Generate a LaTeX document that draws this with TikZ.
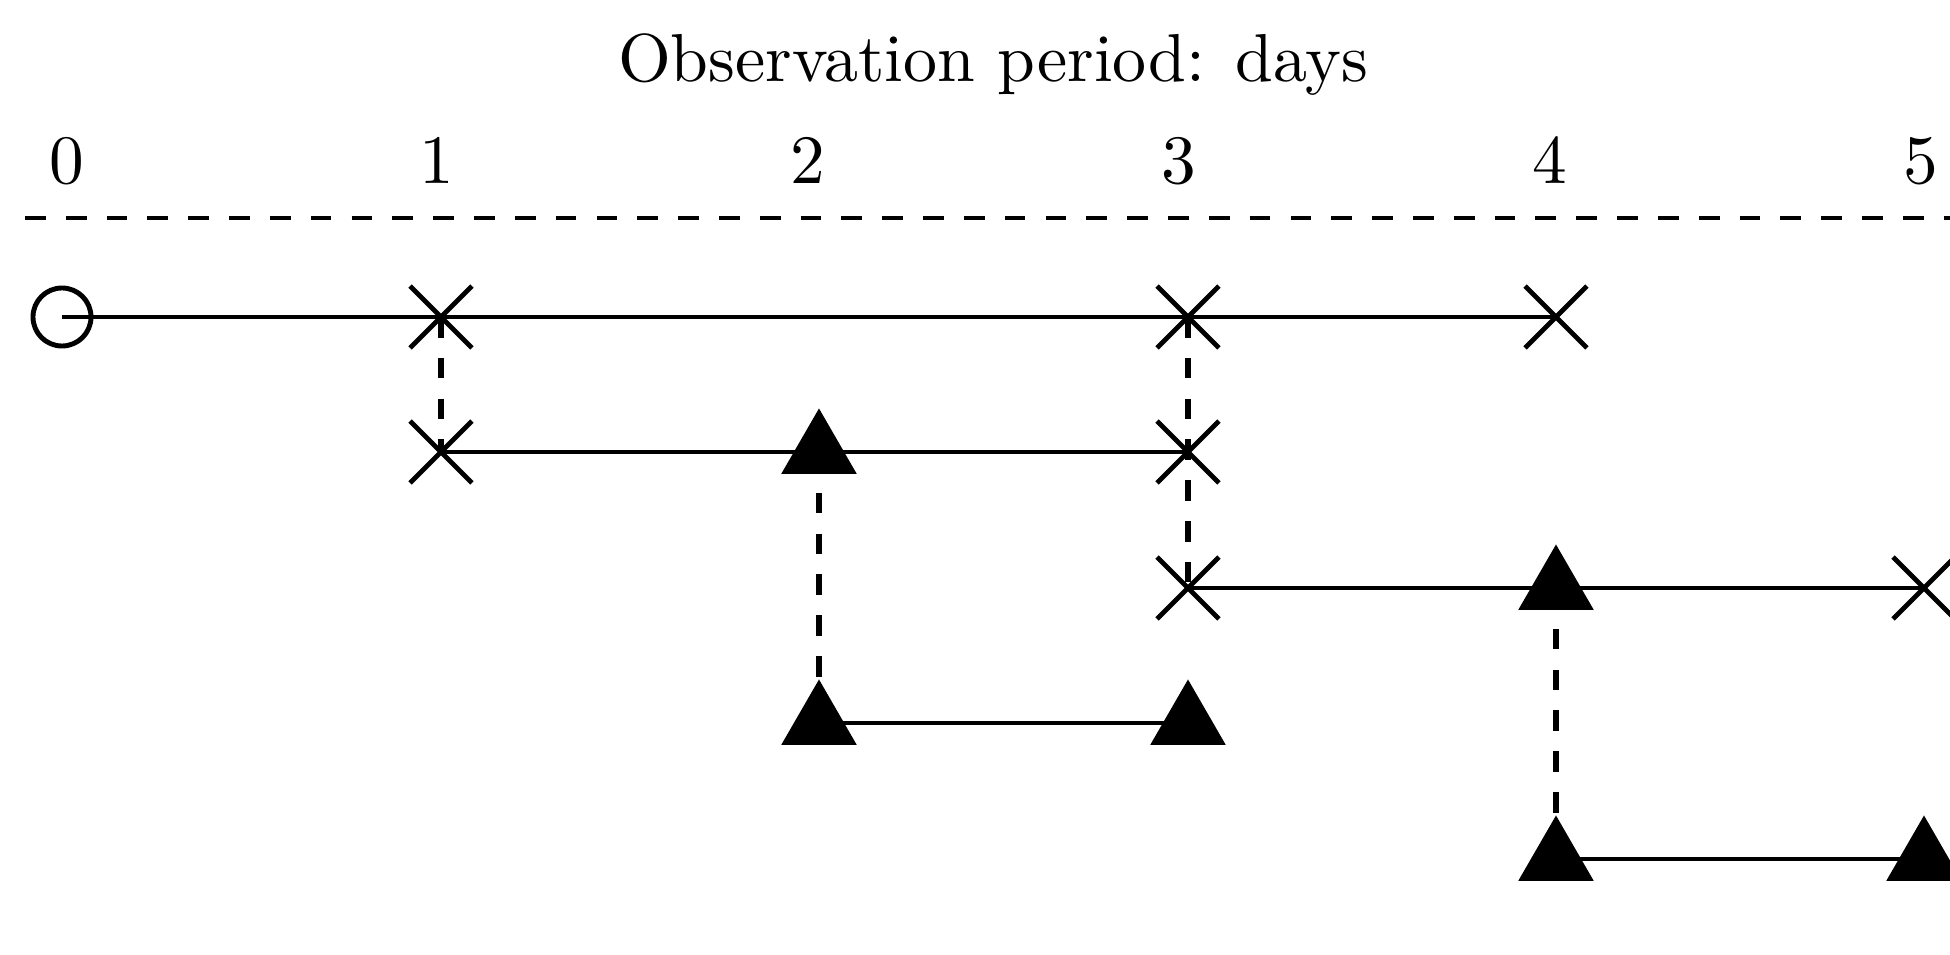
\documentclass[tikz,border=0pt]{standalone}
\usepackage{tikz}
\usetikzlibrary{shapes.geometric,shapes.misc,backgrounds}
\tikzset{
  obs/.style={circle,draw,line width=1.4pt,minimum size=0.58cm,inner sep=0pt},
  cens/.style={cross out,draw,line width=1.4pt,minimum size=0.57cm,inner sep=0pt},
  evt/.style={regular polygon,regular polygon sides=3,fill=black,minimum size=0.87cm,inner sep=0pt,outer sep=0pt},
  span/.style={line width=1.4pt},
  link/.style={line width=1.45pt,dash pattern=on 0.205cm off 0.203cm},
  rule/.style={line width=1.05pt,dash pattern=on 0.207cm off 0.201cm},
  tick/.style={scale=1.97,anchor=base,inner sep=0pt},
}

\begin{document}
\begin{tikzpicture}[x=0.01cm,y=-0.01cm]
    \useasboundingbox (0,0) rectangle (1950,955);
    % title and day labels
    \node[tick,scale=0.98] (title) at (993,82) {Observation period: days};
    \node[tick] (t0) at (67,184) {0};
    \node[tick] (t1) at (437,184) {1};
    \node[tick] (t2) at (808,184) {2};
    \node[tick] (t3) at (1179,184) {3};
    \node[tick] (t4) at (1550,184) {4};
    \node[tick] (t5) at (1921,184) {5};
    \draw[rule] (25,218) -- (1995,218);
    % row 1
    \node[obs] (a0) at (62,317) {};
    \node[cens] (a1) at (441,317) {};
    \node[cens] (a3) at (1188,317) {};
    \node[cens] (a4) at (1556,317) {};
    % row 2
    \node[cens] (b1) at (441,452) {};
    \node[evt] (b2) at (819,452) {};
    \node[cens] (b3) at (1188,452) {};
    % row 3
    \node[cens] (c3) at (1188,588) {};
    \node[evt] (c4) at (1556,588) {};
    \node[cens] (c5) at (1924,588) {};
    % row 4
    \node[evt] (d2) at (819,723) {};
    \node[evt] (d3) at (1188,723) {};
    % row 5
    \node[evt] (e4) at (1556,859) {};
    \node[evt] (e5) at (1924,859) {};
    \begin{scope}[on background layer]
      \draw[span] (a0.center) -- (a4.center);
      \draw[span] (b1.center) -- (b3.center);
      \draw[span] (c3.center) -- (c5.center);
      \draw[span] (d2.center) -- (d3.center);
      \draw[span] (e4.center) -- (e5.center);
      \draw[link] (a1.center) -- (b1.center);
      \draw[link] (a3.center) -- (c3.center);
      \draw[link] (b2.center) -- (d2.center);
      \draw[link] (c4.center) -- (e4.center);
    \end{scope}
  \end{tikzpicture}
\end{document}
